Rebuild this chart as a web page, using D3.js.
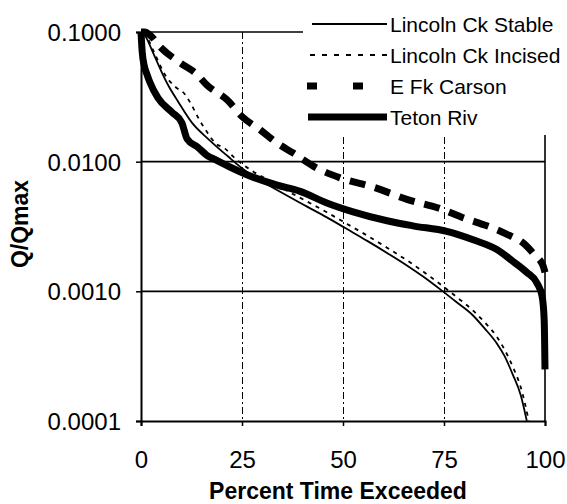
<!DOCTYPE html>
<html>
<head>
<meta charset="utf-8">
<script src="https://cdn.jsdelivr.net/npm/d3@7"></script>
<style>
  body { margin: 0; background: #fff; }
  text { font-family: "Liberation Sans", Arial, sans-serif; fill: #000; }
</style>
</head>
<body>
<div id="chart"></div>
<script>
// percent time exceeded vs Q/Qmax
var stablePct = [0.5, 1.5, 3, 5, 6.7, 9.2, 12.6, 16.6, 21.5, 25, 28, 32, 36, 41, 46, 51, 56, 61, 66, 70, 74, 78, 82, 85, 88, 90, 92, 94, 95.5];
var stableQ = [0.1, 0.088, 0.069, 0.05, 0.039, 0.029, 0.020, 0.015, 0.011, 0.0089, 0.0076, 0.00646, 0.0055, 0.00452, 0.00372, 0.00302, 0.00245, 0.00197, 0.00157, 0.00129, 0.00104, 0.00083, 0.00066, 0.00052, 0.0004, 0.000316, 0.000229, 0.000158, 0.0001];

var incisedPct = [1, 2, 4, 5.9, 8.4, 10.9, 12.9, 14.1, 16.3, 18.3, 20.8, 23.3, 28, 32, 36, 41, 46, 51, 56, 61, 66, 70, 74, 78, 82, 85, 88, 90, 92, 94, 96];
var incisedQ = [0.1, 0.085, 0.062, 0.047, 0.038, 0.033, 0.026, 0.022, 0.017, 0.014, 0.0126, 0.0106, 0.0083, 0.0071, 0.0060, 0.00495, 0.00407, 0.00331, 0.00269, 0.00216, 0.00172, 0.00141, 0.00114, 0.00091, 0.00072, 0.00058, 0.00045, 0.000355, 0.000263, 0.000182, 0.0001];

var carsonPct = [0, 1, 2.2, 4.7, 9.65, 13.9, 16.3, 21.3, 25.2, 29.5, 33.7, 37.6, 43.6, 49.3, 57.9, 66, 74.5, 79.7, 85.6, 90.1, 95, 97.5, 99.5, 100];
var carsonQ = [0.1, 0.1, 0.095, 0.077, 0.058, 0.047, 0.039, 0.030, 0.022, 0.0176, 0.0139, 0.0117, 0.0089, 0.0075, 0.0063, 0.0051, 0.0043, 0.0037, 0.0032, 0.0028, 0.0023, 0.0019, 0.00158, 0.0014];

var tetonPct = [0, 0.3, 0.8, 1.5, 2.2, 4.2, 7.7, 10.1, 11.4, 14.1, 16.3, 18.3, 22, 27.7, 33.7, 39.4, 46, 52.5, 60.9, 67.3, 75.7, 82.2, 88.1, 92.1, 95.5, 98, 99.3, 99.8, 100];
var tetonQ = [0.1, 0.07, 0.055, 0.047, 0.041, 0.031, 0.024, 0.020, 0.015, 0.0129, 0.0112, 0.0104, 0.0091, 0.0076, 0.0066, 0.0059, 0.0048, 0.0041, 0.0035, 0.0032, 0.0029, 0.0025, 0.0021, 0.0017, 0.0014, 0.00116, 0.00091, 0.0006, 0.00025];

var seriesNames = ["Lincoln Ck Stable", "Lincoln Ck Incised", "E Fk Carson", "Teton Riv"];
var xTicks = [0, 25, 50, 75, 100];
var yTicks = [0.1, 0.01, 0.001, 0.0001];

var width = 567, height = 504;
var plotLeft = 141, plotRight = 545, plotTop = 32, plotBottom = 421;

var svg = d3.select("#chart").append("svg")
    .attr("width", width)
    .attr("height", height);

var x = d3.scaleLinear().domain([0, 100]).range([plotLeft, plotRight]);
var y = d3.scaleLog().domain([0.0001, 0.1]).range([plotBottom, plotTop]);

function zipUp(p, q) {
    return p.map(function(d, i) { return {p: d, q: q[i]}; });
}

var series = [
    {name: seriesNames[0], values: zipUp(stablePct, stableQ), w: 1.8, dash: null},
    {name: seriesNames[1], values: zipUp(incisedPct, incisedQ), w: 1.8, dash: "4,5"},
    {name: seriesNames[2], values: zipUp(carsonPct, carsonQ), w: 7, dash: "16,10"},
    {name: seriesNames[3], values: zipUp(tetonPct, tetonQ), w: 7, dash: null}
];

svg.append("clipPath").attr("id", "plotclip")
    .append("rect")
    .attr("x", plotLeft - 4).attr("y", plotTop - 4)
    .attr("width", plotRight - plotLeft + 8).attr("height", plotBottom - plotTop + 4);

/* gridlines */
svg.append("g").selectAll("line")
    .data([0.1, 0.01, 0.001]).enter()
    .append("line")
    .attr("x1", plotLeft).attr("x2", plotRight)
    .attr("y1", d => y(d)).attr("y2", d => y(d))
    .attr("stroke", "#000").attr("stroke-width", 1.6);

svg.append("g").selectAll("line")
    .data([25, 50, 75]).enter()
    .append("line")
    .attr("x1", d => Math.round(x(d)) + 0.5).attr("x2", d => Math.round(x(d)) + 0.5)
    .attr("y1", plotTop).attr("y2", plotBottom)
    .attr("stroke", "#000").attr("stroke-width", 1)
    .attr("stroke-dasharray", "7,3,2,3");

svg.append("line")
    .attr("x1", x(100)).attr("x2", x(100))
    .attr("y1", plotTop).attr("y2", plotBottom)
    .attr("stroke", "#000").attr("stroke-width", 1.6);

/* curves */
var line = d3.line()
    .x(d => x(d.p))
    .y(d => y(d.q))
    .curve(d3.curveMonotoneX);

svg.append("g")
    .attr("clip-path", "url(#plotclip)")
    .selectAll("path")
    .data(series).enter()
    .append("path")
    .attr("d", d => line(d.values))
    .attr("fill", "none")
    .attr("stroke", "#000")
    .attr("stroke-width", d => d.w)
    .attr("stroke-dasharray", d => d.dash)
    .attr("stroke-linejoin", "round");

/* axes */
var yAxis = d3.axisLeft(y)
    .tickValues(yTicks)
    .tickFormat(d3.format(".4f"))
    .tickSize(5)
    .tickPadding(15);

var xAxis = d3.axisBottom(x)
    .tickValues(xTicks)
    .tickFormat(d3.format("d"))
    .tickSize(5)
    .tickPadding(25);

var gy = svg.append("g")
    .attr("transform", `translate(${plotLeft},0)`)
    .call(yAxis);

var gx = svg.append("g")
    .attr("transform", `translate(0,${plotBottom})`)
    .call(xAxis);

[gx, gy].forEach(function(g) {
    g.select(".domain").attr("stroke", "#000").attr("stroke-width", 2);
    g.selectAll(".tick line").attr("stroke", "#000").attr("stroke-width", 1.5);
    g.selectAll(".tick text")
        .style("font-family", "'Liberation Sans', Arial, sans-serif")
        .style("font-size", "24px")
        .attr("fill", "#000");
});
gy.selectAll(".tick text").attr("dy", "0.36em");

/* axis titles */
svg.append("text")
    .attr("x", 338)
    .attr("y", 499)
    .attr("text-anchor", "middle")
    .style("font-size", "23px")
    .style("font-weight", "bold")
    .text("Percent Time Exceeded");

svg.append("text")
    .attr("transform", "translate(28,224) rotate(-90)")
    .attr("text-anchor", "middle")
    .style("font-size", "23px")
    .style("font-weight", "bold")
    .text("Q/Qmax");

/* legend */
var legend = svg.append("g");
legend.append("rect")
    .attr("x", 303).attr("y", 0)
    .attr("width", width - 303).attr("height", 135)
    .attr("fill", "#fff");

var legendSpecs = [
    {x1: 312, w: 1.8, dash: null},
    {x1: 310, w: 1.8, dash: "5,7"},
    {x1: 307, w: 7, dash: "10,36"},
    {x1: 308, w: 7, dash: null}
];

var rows = legend.selectAll("g.row")
    .data(series).enter()
    .append("g")
    .attr("class", "row")
    .attr("transform", (d, i) => `translate(0, ${24 + i * 31})`);

rows.append("line")
    .attr("x1", (d, i) => legendSpecs[i].x1)
    .attr("x2", 387)
    .attr("stroke", "#000")
    .attr("stroke-width", (d, i) => legendSpecs[i].w)
    .attr("stroke-dasharray", (d, i) => legendSpecs[i].dash);

rows.append("text")
    .attr("x", 390)
    .attr("dy", "0.36em")
    .style("font-size", "21px")
    .text(d => d.name);
</script>
</body>
</html>
